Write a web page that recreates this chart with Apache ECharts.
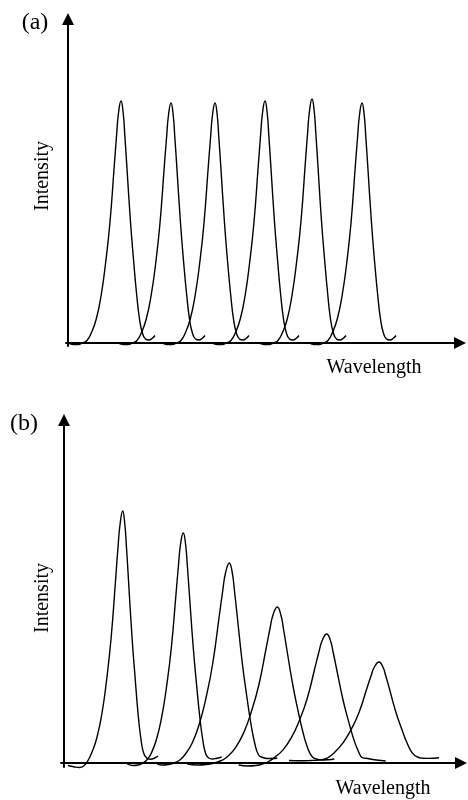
<!DOCTYPE html>
<html>
<head>
<meta charset="utf-8">
<script src="https://cdn.jsdelivr.net/npm/echarts@6/dist/echarts.min.js"></script>
<style>
html,body{margin:0;padding:0;background:#fff;}
#chart{width:468px;height:800px;}
</style>
</head>
<body>
<div id="chart"></div>
<script>
// Text
const panelLabels = ['(a)', '(b)'];
const xAxisTitle = 'Wavelength';
const yAxisTitle = 'Intensity';

// Panel (a): six equal peaks  [wavelength, intensity] (arbitrary units)
const peakA1 = [[1,-0.5],[5,-1.5],[10,-1.5],[14.5,0],[19,2.5],[23.3,10],[28.25,24],[33.2,48],[37.6,80],[42,121],[46.4,179],[48.6,208],[50.5,230],[53,242],[55.2,230],[56.8,208],[58.7,179],[62.5,121],[65.8,80],[68.7,48],[71.5,24],[74.4,10],[77.5,4],[81,3],[84,4.5],[87,7.5]];
const peakA2 = [[51,-0.5],[55,-1.5],[60,-1.5],[64.5,0],[69,2.5],[73.3,10],[78.25,24],[83.2,48],[87.6,79],[92,120],[96.4,178],[98.6,206],[100.5,228],[103,240],[105.2,228],[106.8,206],[108.7,178],[112.5,120],[115.8,79],[118.7,48],[121.5,24],[124.4,10],[127.5,4],[131,3],[134,4.5],[137,7.5]];
const peakA3 = [[95,-0.5],[99,-1.5],[104,-1.5],[108.5,0],[113,2.5],[117.3,10],[122.25,24],[127.2,48],[131.6,79],[136,120],[140.4,178],[142.6,206],[144.5,228],[147,240],[149.2,228],[150.8,206],[152.7,178],[156.5,120],[159.8,79],[162.7,48],[165.5,24],[168.4,10],[171.5,4],[175,3],[178,4.5],[181,7.5]];
const peakA4 = [[145,-0.5],[149,-1.5],[154,-1.5],[158.5,0],[163,2.5],[167.3,10],[172.25,24],[177.2,48],[181.6,80],[186,121],[190.4,179],[192.6,208],[194.5,230],[197,242],[199.2,230],[200.8,208],[202.7,179],[206.5,121],[209.8,80],[212.7,48],[215.5,24],[218.4,10],[221.5,4],[225,3],[228,4.5],[231,7.5]];
const peakA5 = [[192,-0.5],[196,-1.5],[201,-1.5],[205.5,0],[210,2.5],[214.3,10],[219.25,24],[224.2,49],[228.6,81],[233,122],[237.4,181],[239.6,210],[241.5,232],[244,244],[246.2,232],[247.8,210],[249.7,181],[253.5,122],[256.8,81],[259.7,49],[262.5,24],[265.4,10],[268.5,4],[272,3],[275,4.5],[278,7.5]];
const peakA6 = [[242,-0.5],[246,-1.5],[251,-1.5],[255.5,0],[260,2.5],[264.3,10],[269.25,24],[274.2,48],[278.6,79],[283,120],[287.4,178],[289.6,206],[291.5,228],[294,240],[296.2,228],[297.8,206],[299.7,178],[303.5,120],[306.8,79],[309.7,48],[312.5,24],[315.4,10],[318.5,4],[322,3],[325,4.5],[328,7.5]];

// Panel (b): six decaying, broadening peaks
const peakB1 = [[4,-2.5],[10.7,-4],[15.7,-4.5],[20.2,-2.5],[23.7,2],[27.6,10],[32.8,25],[38,50],[42.6,83],[47.2,126],[51.8,186],[54.1,217],[56.1,239],[58.7,252],[60.8,239],[62.4,217],[64.3,186],[68,126],[71.3,83],[74,50],[76.8,25],[79.6,10],[82.7,5],[86.2,3.8],[89.7,4.5],[94,7]];
const peakB2 = [[63.3,-1],[69.3,-2.5],[74.3,-2],[78.8,0],[82.8,3],[86.9,9],[92.3,23],[97.7,46],[102.5,76],[107.3,115],[112.1,170],[114.5,198],[116.5,218.5],[119.3,230],[121.6,218.5],[123.3,198],[125.3,170],[129.3,115],[132.8,76],[135.8,46],[138.8,23],[141.8,9],[144.8,5],[148.3,4],[152.8,4.8],[157.7,6]];
const peakB3 = [[93.3,-1],[98.3,-2],[104.3,-1.5],[110.3,0],[115.8,3],[120.7,8],[128.2,20],[135.6,40],[142.2,66],[148.8,100],[155.4,148],[158.7,172],[161.5,190],[165.3,200],[168.3,190],[170.5,172],[173.1,148],[178.3,100],[182.9,66],[186.8,40],[190.7,20],[194.6,8],[198.8,5.5],[203.3,4.5],[208.3,4.5],[213.3,5]];
const peakB4 = [[123.3,-1],[133.3,-2],[142.3,-1.5],[150.3,0],[157.3,2.5],[163.3,6.2],[171.7,15.6],[180,31],[187.4,51.5],[194.8,78],[202.2,115],[205.9,134],[209,148],[213.3,156],[216.9,148],[219.5,134],[222.6,115],[228.8,78],[234.2,51.5],[238.9,31],[243.5,15.6],[248.2,6.2],[252.8,4],[258.3,3],[264.3,3.3],[270.3,4]];
const peakB5 = [[174.7,-2],[183.7,-3],[191.7,-2.5],[198.7,-1],[204.7,1.5],[210,5.2],[218.8,12.9],[227.6,25.8],[235.4,42.6],[243.2,64.5],[251,95.5],[254.9,111],[258.2,122.5],[262.7,129],[266.4,122.5],[269.1,111],[272.3,95.5],[278.7,64.5],[284.3,42.6],[289.1,25.8],[293.9,12.9],[298.7,5.2],[303.7,4.5],[308.7,3.5],[314.7,2.8],[321.7,2]];
const peakB6 = [[225,2.5],[237,2.2],[247,2.5],[255,3],[261,4],[270,10.1],[279,20.2],[287,33.3],[295,50.5],[303,75],[307,87],[310.4,96],[315,101],[318.9,96],[321.8,87],[325.2,75],[332,50.5],[338,33.3],[343,20.2],[348.2,10.1],[353.3,6],[359,4.8],[365,4.6],[370,4.8],[375,5.3]];

const peaksA = [peakA1, peakA2, peakA3, peakA4, peakA5, peakA6];
const peaksB = [peakB1, peakB2, peakB3, peakB4, peakB5, peakB6];

const chart = echarts.init(document.getElementById('chart'), null, {renderer: 'canvas'});

const axisLine = {
  show: true,
  onZero: true,
  symbol: ['none', 'triangle'],
  symbolSize: [12, 12],
  lineStyle: {color: '#000', width: 2}
};
function valueAxis(min, max) {
  return {
    type: 'value', min: min, max: max,
    axisLine: axisLine,
    axisTick: {show: false},
    axisLabel: {show: false},
    splitLine: {show: false}
  };
}
function peakSeries(data, idx) {
  return {
    type: 'line', data: data, xAxisIndex: idx, yAxisIndex: idx,
    smooth: 0.5, showSymbol: false, clip: false, silent: true,
    lineStyle: {color: '#000', width: 1.4}
  };
}
const serif = '"Liberation Serif", "DejaVu Serif", serif';

const option = {
  backgroundColor: '#fff',
  animation: false,
  grid: [
    {left: 66, top: 19, width: 394, height: 327, containLabel: false, outerBoundsMode: 'none'},
    {left: 61, top: 420, width: 400, height: 347, containLabel: false, outerBoundsMode: 'none'}
  ],
  xAxis: [
    Object.assign(valueAxis(-2, 392), {gridIndex: 0}),
    Object.assign(valueAxis(-3, 397), {gridIndex: 1})
  ],
  yAxis: [
    Object.assign(valueAxis(-3, 324), {gridIndex: 0}),
    Object.assign(valueAxis(-4, 343), {gridIndex: 1})
  ],
  series: peaksA.map(p => peakSeries(p, 0)).concat(peaksB.map(p => peakSeries(p, 1))),
  graphic: [
    {type: 'text', x: 35, y: 23, style: {text: panelLabels[0], font: '24px ' + serif, fill: '#000', align: 'center', verticalAlign: 'middle'}},
    {type: 'text', x: 43, y: 176, rotation: Math.PI / 2, style: {text: yAxisTitle, font: '20px ' + serif, fill: '#000', align: 'center', verticalAlign: 'middle'}},
    {type: 'text', x: 374, y: 368, style: {text: xAxisTitle, font: '20px ' + serif, fill: '#000', align: 'center', verticalAlign: 'middle'}},
    {type: 'text', x: 24, y: 424, style: {text: panelLabels[1], font: '24px ' + serif, fill: '#000', align: 'center', verticalAlign: 'middle'}},
    {type: 'text', x: 43, y: 598, rotation: Math.PI / 2, style: {text: yAxisTitle, font: '20px ' + serif, fill: '#000', align: 'center', verticalAlign: 'middle'}},
    {type: 'text', x: 383, y: 789, style: {text: xAxisTitle, font: '20px ' + serif, fill: '#000', align: 'center', verticalAlign: 'middle'}}
  ]
};
chart.setOption(option);
</script>
</body>
</html>
